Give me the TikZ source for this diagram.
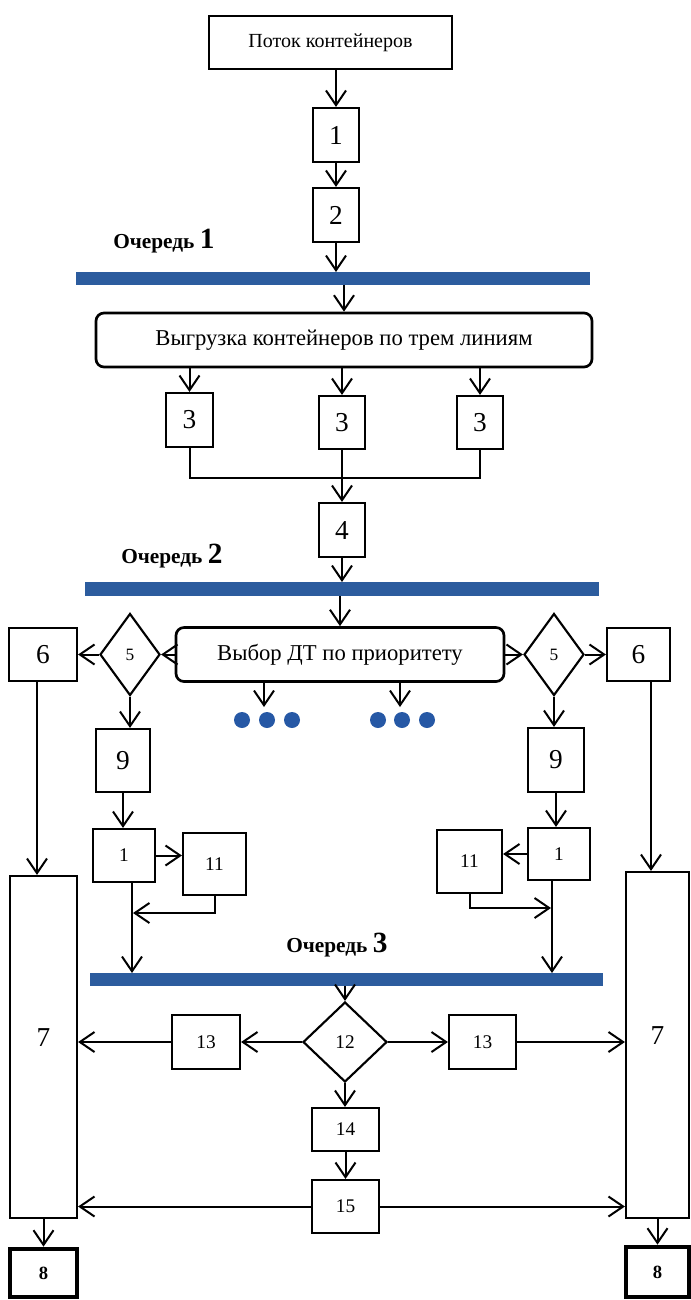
\documentclass[tikz,border=0pt]{standalone}
\usepackage{fontspec}
\setmainfont{Liberation Serif}
\usetikzlibrary{arrows.meta,shapes.geometric,calc}
\definecolor{barblue}{RGB}{44,92,158}
\definecolor{dotblue}{RGB}{38,88,165}
\begin{document}
\begin{tikzpicture}[x=0.75pt,y=-0.75pt,
  sz/.style 2 args={minimum width=#1*0.75pt,minimum height=#2*0.75pt},
  box/.style={draw,line width=1.6pt,inner sep=0pt,fill=white},
  rbox/.style={box,rounded corners=6pt,line width=2pt},
  dia/.style={draw,diamond,line width=1.6pt,inner sep=0pt,fill=white},
  thickbox/.style={box,line width=3.5pt},
  bar/.style={fill=barblue,draw=none,inner sep=0pt,outer sep=0pt},
  dot/.style={circle,fill=dotblue,draw=none,inner sep=0pt,minimum size=12pt},
  txt/.style={font=\fontsize{15}{18}\selectfont},
  wtxt/.style={font=\fontsize{17}{20}\selectfont},
  bigd/.style={font=\fontsize{20.5}{24}\selectfont},
  smd/.style={font=\fontsize{14.5}{17}\selectfont},
  tiny/.style={font=\fontsize{13}{15}\selectfont},
  qlab/.style={font=\fontsize{16}{19}\selectfont\bfseries,inner sep=0pt},
  ln/.style={line width=1.5pt},
  arr/.style={ln,-{Straight Barb[length=11pt,width=15pt,line width=1.5pt]}}
]
\useasboundingbox (0,0) rectangle (690,1300);

% top part
\node[box,txt,sz={243}{53}] (top) at (330.5,42.5) {Поток контейнеров};
\node[box,bigd,sz={46}{54}] (b1) at (336,135) {1};
\node[box,bigd,sz={46}{54}] (b2) at (336,215) {2};
\node[qlab,anchor=base west] (q1) at (113,248) {Очередь \fontsize{22}{26}\selectfont 1};
\node[bar,sz={514}{13}] (bar1) at (333,278.5) {};

\node[rbox,wtxt,sz={496}{54}] (unload) at (344,340) {Выгрузка контейнеров по трем линиям};
\node[box,bigd,sz={47}{54}] (b3a) at (189.5,420) {3};
\node[box,bigd,sz={46}{53}] (b3b) at (342,422.5) {3};
\node[box,bigd,sz={46}{53}] (b3c) at (480,422.5) {3};
\node[box,bigd,sz={46}{54}] (b4) at (342,530) {4};
\node[qlab,anchor=base west] (q2) at (121,563) {Очередь \fontsize{22}{26}\selectfont 2};
\node[bar,sz={514}{14}] (bar2) at (342,589) {};

% selection row
\node[rbox,wtxt,sz={328}{54}] (sel) at (340,654.5) {Выбор ДТ по приоритету};
\node[dia,tiny,sz={60}{82}] (d5L) at (130,654.5) {5};
\node[dia,tiny,sz={60}{82}] (d5R) at (554,654.5) {5};
\node[box,bigd,sz={68}{53}] (b6L) at (43,654.5) {6};
\node[box,bigd,sz={63}{53}] (b6R) at (638.5,654.5) {6};

\node[dot] (dl1) at (242,720) {};
\node[dot] (dl2) at (267,720) {};
\node[dot] (dl3) at (292,720) {};
\node[dot] (dr1) at (378,720) {};
\node[dot] (dr2) at (402,720) {};
\node[dot] (dr3) at (427,720) {};
\coordinate (al) at (264,707);
\coordinate (ar) at (400,707);

\node[box,bigd,sz={54}{63}] (b9L) at (123,760.5) {9};
\node[box,bigd,sz={56}{64}] (b9R) at (556,760) {9};
\node[box,smd,sz={62}{53}] (b1L) at (124,855.5) {1};
\node[box,smd,sz={63}{62}] (b11L) at (214.5,864) {11};
\node[box,smd,sz={62}{52}] (b1R) at (559,854) {1};
\node[box,smd,sz={65}{63}] (b11R) at (469.5,861.5) {11};

\node[box,bigd,sz={67}{342}] (b7L) at (43.5,1047) {\raisebox{14pt}{7}};
\node[box,bigd,sz={63}{346}] (b7R) at (657.5,1045) {\raisebox{14pt}{7}};

\node[qlab,anchor=base west] (q3) at (286,952) {Очередь \fontsize{22}{26}\selectfont 3};
\node[bar,sz={513}{13}] (bar3) at (346.5,979.5) {};

\node[dia,smd,sz={84}{80}] (d12) at (345,1042) {12};
\node[box,smd,sz={68}{54}] (b13L) at (206,1042) {13};
\node[box,smd,sz={67}{54}] (b13R) at (482.5,1042) {13};
\node[box,smd,sz={67}{43}] (b14) at (345.5,1129.5) {14};
\node[box,smd,sz={67}{53}] (b15) at (345.5,1206.5) {15};

\node[thickbox,sz={67}{48},font=\fontsize{14}{16}\selectfont\bfseries] (b8L) at (43.5,1273) {8};
\node[thickbox,sz={63}{50},font=\fontsize{14}{16}\selectfont\bfseries] (b8R) at (657.5,1272) {8};

\coordinate (vL) at (132,0);
\coordinate (vR) at (552,0);
\coordinate (jL) at (133,913);
\coordinate (jR) at (551,908);
\coordinate (v6L) at (37,0);
\coordinate (v6R) at (651,0);

% connectors
\draw[arr] (top.south -| b1) -- (b1.north);
\draw[arr] (b1.south) -- (b2.north);
\draw[arr] (b2.south) -- (b2.south |- bar1.north);
\draw[arr] (bar1.south -| unload) -- (unload.north);
\draw[arr] (unload.south -| b3a) -- (b3a.north);
\draw[arr] (unload.south -| b3b) -- (b3b.north);
\draw[arr] (unload.south -| b3c) -- (b3c.north);
\draw[ln] (b3a.south) -- ++(0,30) -| (b3c.south);
\draw[arr] (b3b.south) -- (b4.north);
\draw[arr] (b4.south) -- (b4.south |- bar2.north);
\draw[arr] (bar2.south -| sel) -- (sel.north);

\draw[arr] (sel.west) -- (d5L.east);
\draw[arr] (d5L.west) -- (b6L.east);
\draw[arr] (sel.east) -- (d5R.west);
\draw[arr] (d5R.east) -- (b6R.west);
\draw[arr] (sel.south -| al) -- (al);
\draw[arr] (sel.south -| ar) -- (ar);

\draw[arr] (d5L.south) -- (d5L.south |- b9L.north);
\draw[arr] (d5R.south) -- (d5R.south |- b9R.north);
\draw[arr] (b9L.south) -- (b9L.south |- b1L.north);
\draw[arr] (b9R.south) -- (b9R.south |- b1R.north);
\draw[arr] (b1L.east) -- (b1L.east -| b11L.west);
\draw[arr] (b1R.west) -- (b1R.west -| b11R.east);
\draw[arr] (b1L.south -| vL) -- (vL |- bar3.north);
\draw[arr] (b1R.south -| vR) -- (vR |- bar3.north);
\draw[arr] (b11L.south) |- (jL);
\draw[arr] (b11R.south) |- (jR);

\draw[arr] (b6L.south -| v6L) -- (v6L |- b7L.north);
\draw[arr] (b6R.south -| v6R) -- (v6R |- b7R.north);

\draw[arr] (bar3.south -| d12) -- (d12.north);
\draw[arr] (d12.west) -- (b13L.east);
\draw[arr] (b13L.west) -- (b13L.west -| b7L.east);
\draw[arr] (d12.east) -- (b13R.west);
\draw[arr] (b13R.east) -- (b13R.east -| b7R.west);
\draw[arr] (d12.south) -- (d12.south |- b14.north);
\draw[arr] (b14.south) -- (b15.north);
\draw[arr] (b15.west) -- (b15.west -| b7L.east);
\draw[arr] (b15.east) -- (b15.east -| b7R.west);
\draw[arr] (b7L.south -| b8L) -- (b8L.north);
\draw[arr] (b7R.south -| b8R) -- (b8R.north);
\end{tikzpicture}
\end{document}
